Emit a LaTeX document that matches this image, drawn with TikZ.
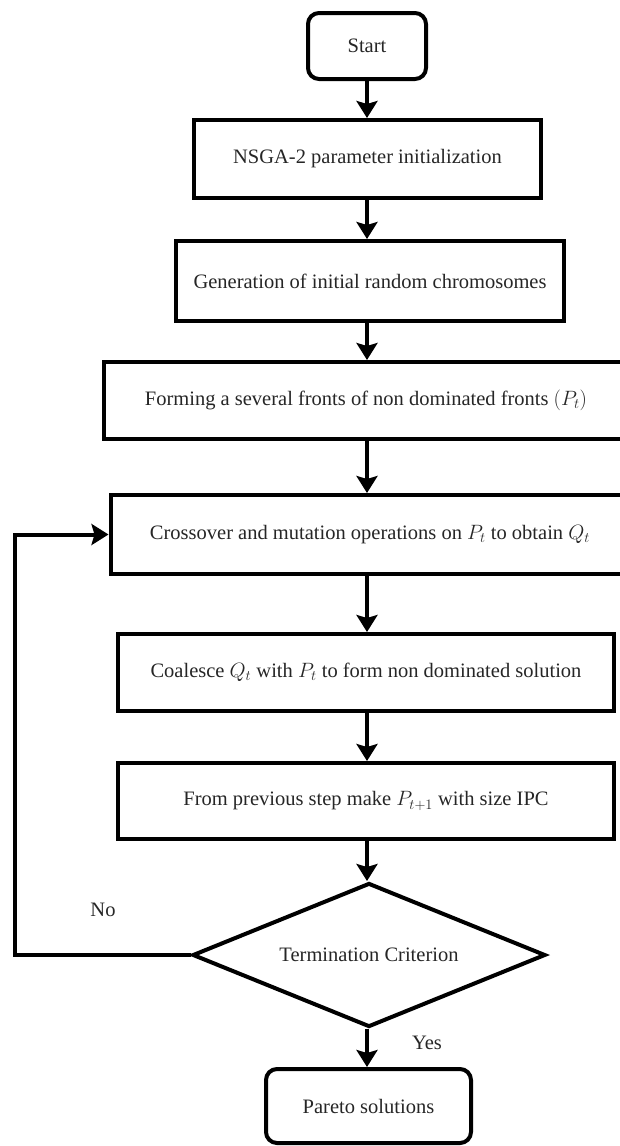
\documentclass[tikz,border=0pt]{standalone}
\usepackage{fontspec}
\setmainfont{Liberation Serif}
\usetikzlibrary{arrows.meta,shapes.geometric}
\begin{document}
\begin{tikzpicture}[x=1pt,y=-1pt,
  every node/.style={font=\fontsize{20.5}{24}\selectfont, text=black!85},
  box/.style={draw=black, line width=4pt, rectangle, inner sep=0pt},
  rbox/.style={box, rounded corners=11pt},
  dbox/.style={draw=black, line width=4pt, diamond, aspect=2.45, inner sep=0pt},
  flow/.style={line width=4pt, -{Stealth[length=17pt,width=21pt,inset=3pt]}},
  lbl/.style={inner sep=0pt}
]
\useasboundingbox (0,0) rectangle (620,1146);
\clip (0,0) rectangle (620,1146);
\coordinate (axis) at (367,0);
\node[rbox, minimum width=118, minimum height=66] (start) at (367,46) {Start};
\node[box, minimum width=347, minimum height=78] (nsga) at (367.5,159) {NSGA-2 parameter initialization};
\node[box, minimum width=388, minimum height=80] (gen) at (370,281) {Generation of initial random chromosomes};
\node[box, minimum width=524, minimum height=77] (form) at (366,400.5) {Forming a several fronts of non dominated fronts $(P_t)$};
\node[box, minimum width=519, minimum height=79] (cross) at (370,534.5) {Crossover and mutation operations on $P_t$ to obtain $Q_t$};
\node[box, minimum width=496, minimum height=77] (coal) at (366,672.5) {Coalesce $Q_t$ with $P_t$ to form non dominated solution};
\node[box, minimum width=496, minimum height=76] (prev) at (366,801) {From previous step make $P_{t+1}$ with size IPC};
\node[dbox, minimum width=353, minimum height=144] (term) at (369,955) {Termination Criterion};
\node[rbox, minimum width=205, minimum height=74] (pareto) at (368.5,1106) {Pareto solutions};
\node[lbl] (no) at (103,910) {No};
\node[lbl] (yes) at (427,1043) {Yes};

\draw[flow] (start.south -| axis) -- (nsga.north -| axis);
\draw[flow] (nsga.south -| axis) -- (gen.north -| axis);
\draw[flow] (gen.south -| axis) -- (form.north -| axis);
\draw[flow] (form.south -| axis) -- (cross.north -| axis);
\draw[flow] (cross.south -| axis) -- (coal.north -| axis);
\draw[flow] (coal.south -| axis) -- (prev.north -| axis);
\draw[flow] (prev.south -| axis) -- (term.north -| axis);
\draw[flow] (term.south -| axis) -- (pareto.north -| axis);
\coordinate (lb) at (15,955);
\coordinate (lt) at (15,534.5);
\draw[flow] (term.west) -- (lb) -- (lt) -- (cross.west);
\end{tikzpicture}
\end{document}
